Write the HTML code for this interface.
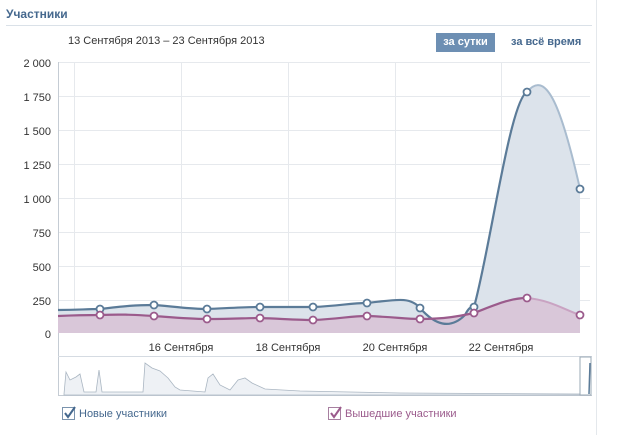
<!DOCTYPE html><html><head><meta charset="utf-8"><style>
body{margin:0;width:627px;height:435px;background:#fff;font-family:"Liberation Sans",sans-serif;overflow:hidden;position:relative}
.t{position:absolute;white-space:nowrap}
</style></head><body>
<div class="t" style="left:6px;top:7px;font-size:12px;font-weight:bold;color:#45688e">Участники</div>
<div style="position:absolute;left:6px;top:25px;width:586px;height:1px;background:#dae1e8"></div>
<div style="position:absolute;left:596px;top:0;width:1px;height:435px;background:#e4e8ec"></div>
<div class="t" style="left:68px;top:35px;font-size:11px;color:#333">13 Сентября 2013 – 23 Сентября 2013</div>
<div class="t" style="left:436px;top:33px;width:59px;height:19px;background:#6d8fb3;color:#fff;font-size:11px;font-weight:bold;line-height:19px;text-align:center">за сутки</div>
<div class="t" style="left:511px;top:36px;font-size:11px;font-weight:bold;color:#45688e">за всё время</div>
<svg width="627" height="435" style="position:absolute;left:0;top:0" font-family="Liberation Sans" font-size="11" fill="#333">
<g stroke="#e6e9ed" stroke-width="1">
<line x1="58" y1="62.5" x2="590" y2="62.5"/><line x1="58" y1="96.5" x2="590" y2="96.5"/><line x1="58" y1="130.5" x2="590" y2="130.5"/><line x1="58" y1="164.5" x2="590" y2="164.5"/><line x1="58" y1="198.5" x2="590" y2="198.5"/><line x1="58" y1="232.5" x2="590" y2="232.5"/><line x1="58" y1="266.5" x2="590" y2="266.5"/><line x1="58" y1="300.5" x2="590" y2="300.5"/>
<line x1="74.5" y1="62" x2="74.5" y2="333"/><line x1="181.5" y1="62" x2="181.5" y2="333"/><line x1="288.5" y1="62" x2="288.5" y2="333"/><line x1="395.5" y1="62" x2="395.5" y2="333"/><line x1="501.5" y1="62" x2="501.5" y2="333"/>
</g>
<line x1="58.5" y1="62" x2="58.5" y2="395" stroke="#c5ccd4"/>
<g text-anchor="end"><text x="51" y="67">2 000</text><text x="51" y="101">1 750</text><text x="51" y="135">1 500</text><text x="51" y="169">1 250</text><text x="51" y="203">1 000</text><text x="51" y="237">750</text><text x="51" y="271">500</text><text x="51" y="305">250</text><text x="51" y="338">0</text></g>
<path d="M58,310 C80,310 85,309 100,309 C125,306 135,305 154,305 C180,307 190,309 207,309 C230,308 245,307 260,307 C285,307 300,307 313,307 C340,306 350,303 367,303 C395,300 410,296 420,308 C435,325 450,330 465,315 C470,305 473,307 474,307 C490,250 510,100 527,92 C545,70 560,100 580,189 L580,333 L58,333Z" fill="#dce3eb"/>
<path d="M58,316 C80,315 85,315 100,315 C125,314 135,315 154,316 C180,318 190,319 207,319 C235,319 245,318 260,318 C285,319 300,320 313,320 C340,319 350,316 367,316 C395,317 405,319 420,319 C445,319 460,316 474,313 C495,305 510,298 527,298 C550,300 565,310 580,315 L580,333 L58,333Z" fill="#d9c7d9"/>
<path d="M58,310 C80,310 85,309 100,309 C125,306 135,305 154,305 C180,307 190,309 207,309 C230,308 245,307 260,307 C285,307 300,307 313,307 C340,306 350,303 367,303 C395,300 410,296 420,308 C435,325 450,330 465,315 C470,305 473,307 474,307 C490,250 510,100 527,92" fill="none" stroke="#5b7b98" stroke-width="2.2"/>
<path d="M527,92 C545,70 560,100 580,189" fill="none" stroke="#a9bccf" stroke-width="2"/>
<path d="M58,316 C80,315 85,315 100,315 C125,314 135,315 154,316 C180,318 190,319 207,319 C235,319 245,318 260,318 C285,319 300,320 313,320 C340,319 350,316 367,316 C395,317 405,319 420,319 C445,319 460,316 474,313 C495,305 510,298 527,298" fill="none" stroke="#9b5b8c" stroke-width="2.2"/>
<path d="M527,298 C550,300 565,310 580,315" fill="none" stroke="#c9a3c2" stroke-width="2"/>
<g fill="#fff" stroke="#5b7b98" stroke-width="1.8"><circle cx="100" cy="309" r="3.5"/><circle cx="154" cy="305" r="3.5"/><circle cx="207" cy="309" r="3.5"/><circle cx="260" cy="307" r="3.5"/><circle cx="313" cy="307" r="3.5"/><circle cx="367" cy="303" r="3.5"/><circle cx="420" cy="308" r="3.5"/><circle cx="474" cy="307" r="3.5"/><circle cx="527" cy="92" r="3.5"/><circle cx="580" cy="189" r="3.5"/></g>
<g fill="#fff" stroke="#9b5b8c" stroke-width="1.8"><circle cx="100" cy="315" r="3.5"/><circle cx="154" cy="316" r="3.5"/><circle cx="207" cy="319" r="3.5"/><circle cx="260" cy="318" r="3.5"/><circle cx="313" cy="320" r="3.5"/><circle cx="367" cy="316" r="3.5"/><circle cx="420" cy="319" r="3.5"/><circle cx="474" cy="313" r="3.5"/><circle cx="527" cy="298" r="3.5"/><circle cx="580" cy="315" r="3.5"/></g>
<g text-anchor="middle" fill="#333"><text x="181" y="351">16 Сентября</text><text x="288" y="351">18 Сентября</text><text x="395" y="351">20 Сентября</text><text x="501" y="351">22 Сентября</text></g>
<line x1="58" y1="356.5" x2="592" y2="356.5" stroke="#d5dbe2"/>
<line x1="58" y1="395.5" x2="592" y2="395.5" stroke="#c5ccd4"/>
<path d="M64,394 L66,372 L70,380 L76,377 L80,374 L84,392 L96,392 L99,370 L102,392 L143,392 L145,363 L152,368 L160,371 L168,378 L175,387 L180,390 L205,392 L208,378 L213,374 L220,385 L230,390 L238,380 L245,378 L252,383 L265,389 L300,391 L400,393 L580,394 L580,395 L64,395Z" fill="#eef1f5" stroke="#aab6c2" stroke-width="0.8"/>
<rect x="580" y="357" width="11" height="38" fill="none" stroke="#9aa8b6"/>
<line x1="589" y1="394" x2="590" y2="363" stroke="#5b7b98" stroke-width="1.5"/>
<rect x="62.5" y="407.5" width="12" height="12" fill="#fff" stroke="#7a93ad"/>
<path d="M65,413 L68,417 L75,407" fill="none" stroke="#45688e" stroke-width="2"/>
<rect x="328.5" y="407.5" width="12" height="12" fill="#fff" stroke="#a77fa0"/>
<path d="M331,413 L334,417 L341,407" fill="none" stroke="#9b5b8c" stroke-width="2"/>
</svg>
<div class="t" style="left:79px;top:408px;font-size:11px;color:#45688e">Новые участники</div>
<div class="t" style="left:345px;top:408px;font-size:11px;color:#9b5b8c">Вышедшие участники</div>
</body></html>
